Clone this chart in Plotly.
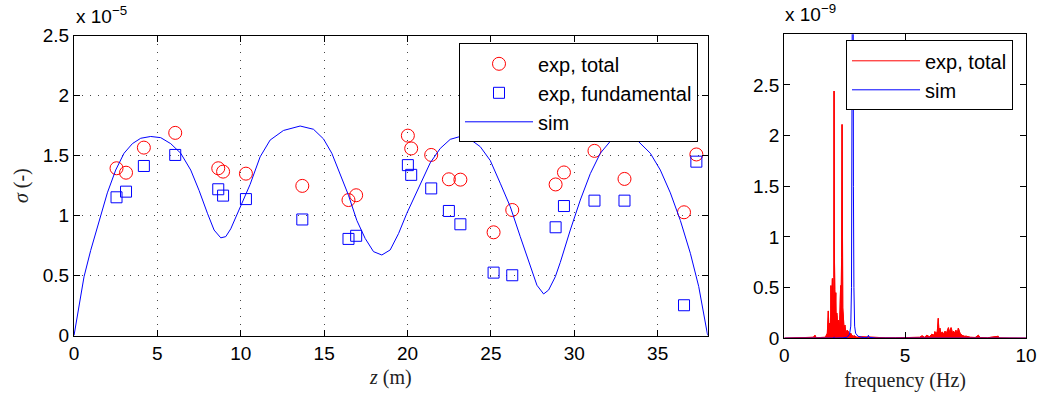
import plotly.graph_objects as go

W, H = 1042, 401

# ---------------- data: left panel (sigma vs z, units of 1e-5) ----------------
z_exp = [2.55, 3.12, 4.19, 6.07, 8.65, 8.94, 10.31, 13.69, 16.46, 16.92, 20.02, 20.22,
         21.42, 22.48, 23.17, 25.16, 26.28, 28.88, 29.38, 31.21, 33.01, 36.58, 37.32]
sigma_total = [1.395, 1.358, 1.567, 1.69, 1.395, 1.367, 1.35, 1.248, 1.13, 1.17, 1.667, 1.56,
               1.506, 1.303, 1.30, 0.861, 1.047, 1.26, 1.36, 1.54, 1.306, 1.028, 1.51]
sigma_fund = [1.153, 1.2, 1.414, 1.506, 1.22, 1.167, 1.138, 0.968, 0.806, 0.832, 1.421, 1.34,
              1.227, 1.039, 0.928, 0.525, 0.503, 0.903, 1.08, 1.125, 1.125, 0.253, 1.45]

z_sim = [0, 0.3, 0.6, 1.0, 1.5, 2.0, 2.5, 3.0, 3.5, 4.0, 4.6, 5.2, 5.8, 6.4, 7.0, 7.5, 8.0,
         8.4, 8.8, 9.1, 9.4, 9.8, 10.2, 10.56, 11.16, 11.76, 12.56, 13.56, 14.36, 14.96,
         15.46, 15.96, 16.46, 16.96, 17.46, 17.96, 18.46, 18.96, 19.46, 19.96, 20.46, 20.76,
         21.36, 21.96, 22.56, 23.16, 23.76, 24.36, 24.96, 25.56, 26.16, 26.76, 27.36, 27.76,
         28.16, 28.46, 28.86, 29.16, 29.76, 30.36, 30.96, 31.56, 32.16, 32.96, 33.76, 34.56,
         35.16, 35.76, 36.36, 36.96, 37.46, 38.0]
sigma_sim = [0, 0.24, 0.49, 0.71, 0.96, 1.19, 1.38, 1.52, 1.60, 1.645, 1.66, 1.65, 1.60, 1.52,
             1.38, 1.21, 1.02, 0.88, 0.815, 0.825, 0.89, 1.02, 1.14, 1.26, 1.49, 1.63, 1.71,
             1.747, 1.72, 1.64, 1.52, 1.35, 1.17, 0.96, 0.81, 0.70, 0.672, 0.714, 0.85, 1.02,
             1.17, 1.26, 1.44, 1.56, 1.636, 1.66, 1.636, 1.575, 1.46, 1.27, 1.075, 0.825, 0.575,
             0.42, 0.347, 0.38, 0.49, 0.61, 0.88, 1.13, 1.35, 1.52, 1.62, 1.664, 1.63, 1.52,
             1.38, 1.19, 0.96, 0.686, 0.41, 0.0]

# ---------------- data: right panel (spectrum, units of 1e-9) ----------------
f_exp = [0, 0.5, 1.0, 1.2, 1.27, 1.32, 1.5, 1.7, 1.78, 1.82, 1.85, 1.88, 1.91, 1.93, 1.95,
         1.97, 1.99, 2.01, 2.03, 2.05, 2.06, 2.07, 2.09, 2.11, 2.13, 2.15, 2.17, 2.19, 2.21,
         2.23, 2.26, 2.28, 2.30, 2.33, 2.35, 2.37, 2.39, 2.40, 2.42, 2.44, 2.47, 2.51, 2.55,
         2.6, 2.65, 2.7, 2.75, 2.79, 2.85, 2.9, 3.0, 3.2, 3.5, 3.8, 4.2, 4.6, 5.0, 5.4, 5.6,
         5.7, 5.8, 5.9, 6.0, 6.1, 6.2, 6.23, 6.28, 6.33, 6.37, 6.40, 6.44, 6.48, 6.55, 6.6,
         6.65, 6.7, 6.75, 6.79, 6.83, 6.87, 6.9, 6.93, 6.97, 7.0, 7.05, 7.1, 7.15, 7.2, 7.24,
         7.27, 7.35, 7.45, 7.54, 7.7, 7.9, 8.03, 8.1, 8.4, 8.85, 8.9, 9.3, 10.0]
amp_exp = [0.002, 0.003, 0.005, 0.01, 0.03, 0.005, 0.008, 0.01, 0.05, 0.27, 0.08, 0.15, 0.05,
           0.52, 0.3, 0.45, 0.59, 0.35, 0.2, 0.6, 2.44, 0.9, 0.48, 0.3, 0.45, 0.12, 0.25, 0.21,
           0.08, 0.18, 0.15, 0.06, 0.2, 0.52, 0.35, 0.8, 2.11, 0.9, 0.3, 0.23, 0.1, 0.13, 0.05,
           0.08, 0.066, 0.03, 0.05, 0.03, 0.02, 0.025, 0.01, 0.015, 0.01, 0.008, 0.005, 0.005,
           0.004, 0.006, 0.01, 0.025, 0.01, 0.03, 0.015, 0.04, 0.03, 0.066, 0.04, 0.07, 0.197,
           0.06, 0.1, 0.05, 0.06, 0.035, 0.07, 0.045, 0.09, 0.105, 0.06, 0.1, 0.105, 0.08, 0.04,
           0.07, 0.05, 0.08, 0.04, 0.1, 0.06, 0.05, 0.03, 0.02, 0.02, 0.01, 0.008, 0.03, 0.008,
           0.005, 0.02, 0.004, 0.003, 0.002]

f_sim = [0, 1.0, 2.0, 2.07, 2.12, 2.4, 2.6, 2.7, 2.75, 2.78, 2.8, 2.82, 2.83, 2.84, 2.86,
         2.88, 2.91, 2.95, 3.05, 3.3, 3.45, 3.48, 3.51, 3.8, 5.0, 10.0]
amp_sim = [0.001, 0.001, 0.002, 0.01, 0.002, 0.004, 0.01, 0.04, 0.12, 0.5, 1.5, 4.0, 8.0, 4.0,
           1.5, 0.5, 0.12, 0.05, 0.02, 0.005, 0.01, 0.03, 0.01, 0.002, 0.001, 0.001]

RED = "#ff0000"
BLUE = "#0000ff"
SANS = "Liberation Sans, Arial, sans-serif"
SERIF = "Liberation Serif, Times New Roman, serif"
FS = 19
LFS = 20


def px_x(p):
    return p / W


def px_y(p):
    return 1 - p / H


fig = go.Figure()

fig.add_trace(go.Scatter(x=z_exp, y=sigma_total, mode="markers", name="exp, total",
                         marker=dict(symbol="circle-open", size=13, color=RED,
                                     line=dict(width=1, color=RED)),
                         xaxis="x", yaxis="y", legend="legend", legendgroup="a"))
fig.add_trace(go.Scatter(x=z_exp, y=sigma_fund, mode="markers", name="exp, fundamental",
                         marker=dict(symbol="square-open", size=11, color=BLUE,
                                     line=dict(width=1, color=BLUE)),
                         xaxis="x", yaxis="y", legend="legend", legendgroup="b"))
fig.add_trace(go.Scatter(x=z_sim, y=sigma_sim, mode="lines", name="sim",
                         line=dict(color=BLUE, width=1),
                         xaxis="x", yaxis="y", legend="legend", legendgroup="c"))

# dense red spectrum: filled body (no legend) + outline (legend entry)
fig.add_trace(go.Scatter(x=f_exp, y=amp_exp, mode="lines", name="exp, total",
                         line=dict(color=RED, width=0.8), fill="tozeroy", fillcolor=RED,
                         xaxis="x2", yaxis="y2", showlegend=False, hoverinfo="skip"))
fig.add_trace(go.Scatter(x=f_exp, y=amp_exp, mode="lines", name="exp, total",
                         line=dict(color=RED, width=1),
                         xaxis="x2", yaxis="y2", legend="legend2", legendgroup="d"))
fig.add_trace(go.Scatter(x=f_sim, y=amp_sim, mode="lines", name="sim",
                         line=dict(color=BLUE, width=1),
                         xaxis="x2", yaxis="y2", legend="legend2", legendgroup="e"))

axis_common = dict(showline=True, linecolor="black", linewidth=1.2, mirror="ticks",
                   ticks="inside", ticklen=6, tickcolor="black", zeroline=False,
                   automargin=False,
                   tickfont=dict(family=SANS, size=FS, color="black"))
grid = dict(showgrid=True, gridcolor="#444444", gridwidth=1, griddash="1px,7px")
title_font = dict(family=SERIF, size=20, color="#222")

fig.update_layout(
    width=W, height=H,
    margin=dict(l=0, r=0, t=0, b=0, autoexpand=False),
    paper_bgcolor="white", plot_bgcolor="white",
    xaxis=dict(domain=[px_x(74), px_x(707.7)], range=[0, 38], anchor="y",
               tickvals=[0, 5, 10, 15, 20, 25, 30, 35],
               title=dict(text="<i>z</i> (m)", font=title_font, standoff=7),
               **axis_common, **grid),
    yaxis=dict(domain=[px_y(335.6), px_y(35.7)], range=[0, 2.5], anchor="x",
               tickvals=[0, 0.5, 1, 1.5, 2, 2.5], ticktext=["0", "0.5", "1", "1.5", "2", "2.5"],
               title=dict(text="<i>σ</i> (-)", font=title_font, standoff=8),
               **axis_common, **grid),
    xaxis2=dict(domain=[px_x(784.3), px_x(1026)], range=[0, 10], anchor="y2",
                tickvals=[0, 5, 10], showgrid=False,
                title=dict(text="frequency (Hz)", font=title_font, standoff=7),
                **axis_common),
    yaxis2=dict(domain=[px_y(338.3), px_y(34.3)], range=[0, 3.0], anchor="x2",
                tickvals=[0, 0.5, 1, 1.5, 2, 2.5], ticktext=["0", "0.5", "1", "1.5", "2", "2.5"],
                showgrid=False, **axis_common),
    legend=dict(x=px_x(459), y=px_y(43.3), xanchor="left", yanchor="top",
                bordercolor="black", borderwidth=1, bgcolor="white",
                font=dict(family=SANS, size=LFS, color="black"), itemwidth=68,
                traceorder="grouped", tracegroupgap=0),
    legend2=dict(x=px_x(846), y=px_y(40.3), xanchor="left", yanchor="top",
                 bordercolor="black", borderwidth=1, bgcolor="white",
                 font=dict(family=SANS, size=LFS, color="black"), itemwidth=68,
                 traceorder="grouped", tracegroupgap=0),
    showlegend=True,
    annotations=[
        dict(text="x 10<sup>−5</sup>", x=px_x(74), y=px_y(29), xref="paper", yref="paper",
             xanchor="left", yanchor="bottom", showarrow=False,
             font=dict(family=SANS, size=FS, color="black")),
        dict(text="x 10<sup>−9</sup>", x=px_x(783), y=px_y(27), xref="paper", yref="paper",
             xanchor="left", yanchor="bottom", showarrow=False,
             font=dict(family=SANS, size=FS, color="black")),
    ],
)

fig.write_html("out.html")
